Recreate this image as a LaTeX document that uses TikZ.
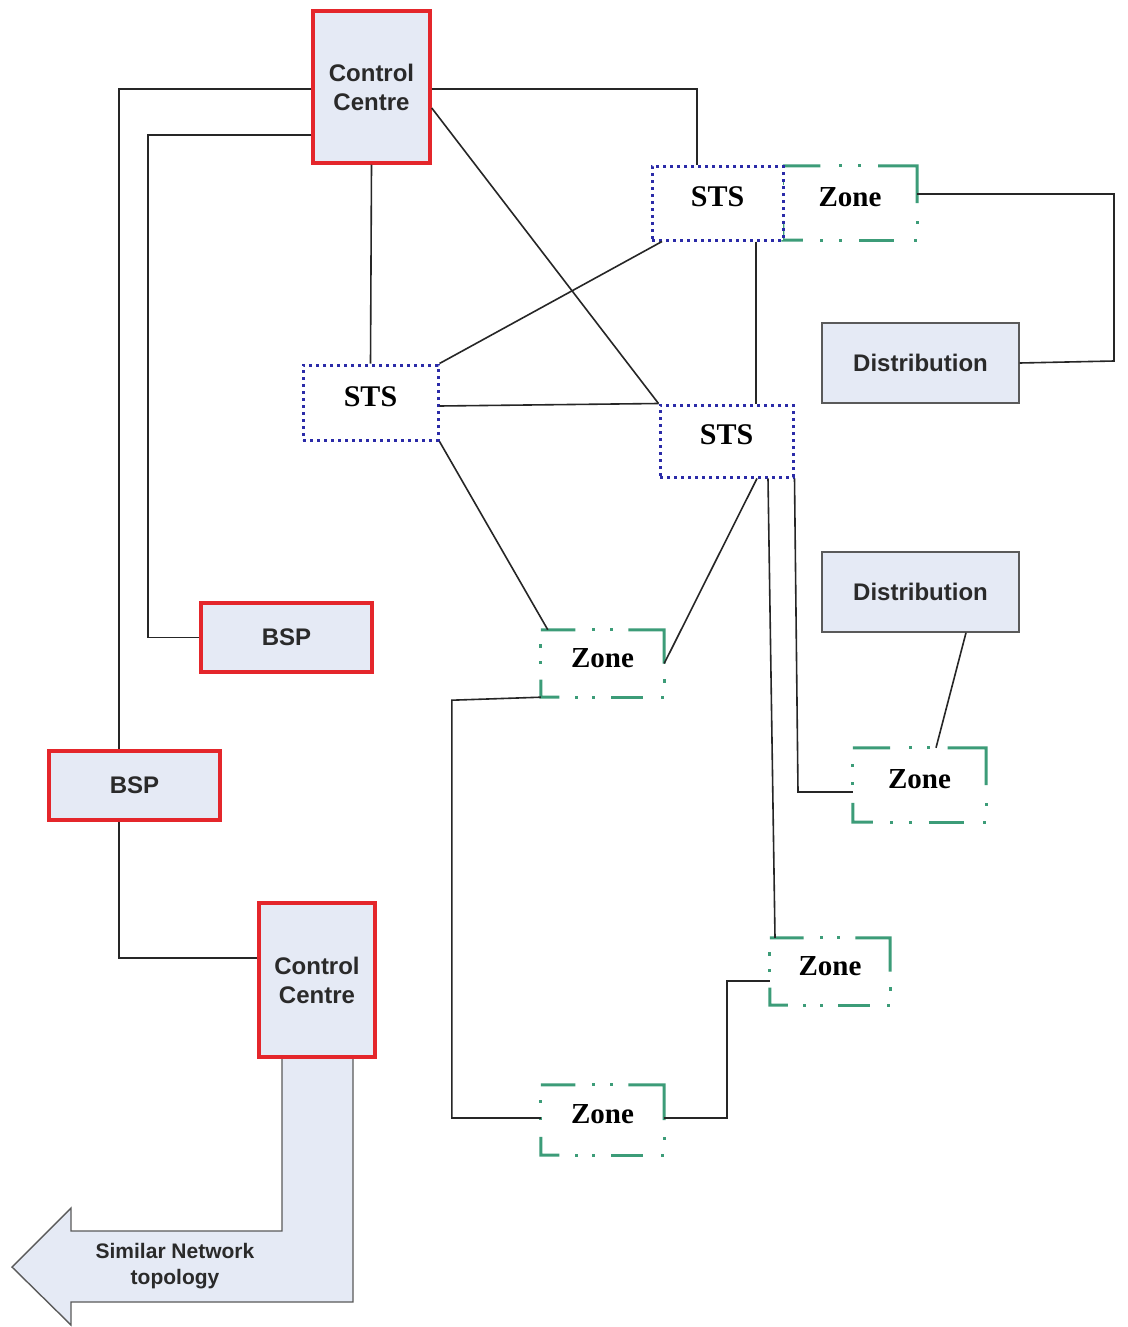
\documentclass[tikz,border=0pt]{standalone}
\usepackage{fontspec}
\usetikzlibrary{calc}
\setmainfont{Liberation Sans}
\newfontfamily\tnr{Liberation Serif}
\definecolor{cred}{HTML}{E4262B}
\definecolor{cfill}{HTML}{E5EAF5}
\definecolor{cblue}{HTML}{2B2BA8}
\definecolor{cgreen}{HTML}{3C9C78}
\definecolor{cgray}{HTML}{5A5A5A}
\definecolor{ctext}{HTML}{2A2A2A}
% green dash-dot-dot frame of a zone node
\newcommand\zdot[1]{\fill[cgreen] #1 ++(-1.6,-1.6) rectangle ++(3.2,3.2);}
\newcommand\zfrm[1]{%
  \draw[zl] (#1.north west) -- ($(#1.north west)!0.28!(#1.north east)$);
  \zdot{($(#1.north west)!0.43!(#1.north east)$)}
  \zdot{($(#1.north west)!0.57!(#1.north east)$)}
  \draw[zl] ($(#1.north west)!0.71!(#1.north east)$) -- (#1.north east) -- ($(#1.north east)!0.5!(#1.south east)$);
  \zdot{($(#1.north east)!0.76!(#1.south east)$)}
  \zdot{($(#1.south west)!0.985!(#1.south east)$)}
  \draw[zl] ($(#1.south west)!0.57!(#1.south east)$) -- ($(#1.south west)!0.83!(#1.south east)$);
  \zdot{($(#1.south west)!0.29!(#1.south east)$)}
  \zdot{($(#1.south west)!0.43!(#1.south east)$)}
  \draw[zl] ($(#1.south west)!0.15!(#1.south east)$) -- (#1.south west) -- ($(#1.north west)!0.74!(#1.south west)$);
  \zdot{($(#1.north west)!0.24!(#1.south west)$)}
  \zdot{($(#1.north west)!0.48!(#1.south west)$)}
}
\begin{document}
\begin{tikzpicture}[x=1pt,y=-1pt,
  box/.style={draw, inner sep=0pt, align=center},
  redbox/.style={box, draw=cred, line width=3.5pt, fill=cfill, text=ctext, font=\bfseries\fontsize{24}{29}\selectfont},
  distbox/.style={box, draw=cgray, line width=1.4pt, fill=cfill, text=ctext, font=\bfseries\fontsize{24}{29}\selectfont},
  stsbox/.style={box, draw=cblue, line width=3pt, dash pattern=on 3pt off 4pt, fill=white, text depth=12pt, font=\tnr\bfseries\fontsize{30}{34}\selectfont},
  zonebox/.style={inner sep=0pt, align=center, text depth=12pt, font=\tnr\bfseries\fontsize{29}{34}\selectfont},
  zl/.style={draw=cgreen, line width=3pt, line join=miter},
  wire/.style={draw=black!85, line width=1.6pt}]
\useasboundingbox[fill=white] (0,0) rectangle (1127,1327);

% block arrow
\fill[cfill] (282,1057) -- (282,1231) -- (71,1231) -- (71,1208) -- (12,1267) -- (71,1325) -- (71,1302) -- (353,1302) -- (353,1057) -- cycle;
\draw[cgray, line width=1.4pt, line join=miter] (282,1057) -- (282,1231) -- (71,1231) -- (71,1208) -- (12,1267) -- (71,1325) -- (71,1302) -- (353,1302) -- (353,1057);
\node[text=ctext, align=center, font=\bfseries\fontsize{21}{26}\selectfont] (simtxt) at (175,1266) {Similar Network\\topology};

% nodes
\node[redbox, minimum width=117pt, minimum height=152pt] (cc1) at (371.5,87) {Control\\Centre};
\node[zonebox, minimum width=134pt, minimum height=74pt] (zone1) at (850,203) {Zone};
\zfrm{zone1}
\node[stsbox, minimum width=131pt, minimum height=74pt] (sts1) at (717.5,203) {STS};
\node[distbox, minimum width=197pt, minimum height=80pt] (dist1) at (920.5,363) {Distribution};
\node[stsbox, minimum width=135pt, minimum height=75pt] (sts2) at (370.5,402.5) {STS};
\node[stsbox, minimum width=133pt, minimum height=72pt] (sts3) at (726.5,441) {STS};
\node[distbox, minimum width=197pt, minimum height=80pt] (dist2) at (920.5,592) {Distribution};
\node[redbox, minimum width=171pt, minimum height=69pt] (bsp1) at (286.5,637.5) {BSP};
\node[zonebox, minimum width=123pt, minimum height=67pt] (zoneA) at (602.5,663.5) {Zone};
\zfrm{zoneA}
\node[redbox, minimum width=171pt, minimum height=69pt] (bsp2) at (134.5,785.5) {BSP};
\node[zonebox, minimum width=133pt, minimum height=74pt] (zoneB) at (919.5,785) {Zone};
\zfrm{zoneB}
\node[redbox, minimum width=116pt, minimum height=154pt] (cc2) at (317,980) {Control\\Centre};
\node[zonebox, minimum width=120pt, minimum height=67pt] (zoneC) at (830,971.5) {Zone};
\zfrm{zoneC}
\node[zonebox, minimum width=123pt, minimum height=70pt] (zoneD) at (602.5,1120) {Zone};
\zfrm{zoneD}

% connectors
\draw[wire] (cc1.west |- 0,89) -| (bsp2.north -| 119,0);
\draw[wire] (bsp2.south -| 119,0) |- (cc2.west |- 0,958);
\draw[wire] (cc1.west |- 0,135) -| (bsp1.west -| 148,0) -- (bsp1.west);
\draw[wire] (cc1.east |- 0,89) -| (sts1.north -| 697,0);
\draw[wire] (cc1.east |- 0,108) -- (sts3.north west);
\draw[wire] (cc1.south) -- (sts2.north);
\draw[wire] (sts1.south -| 662,0) -- (sts2.north east);
\draw[wire] (sts1.south -| 756,0) -- (sts3.north -| 756,0);
\draw[wire] (sts2.east |- 0,406) -- (sts3.north west);
\draw[wire] (sts2.south east) -- ([xshift=7pt]zoneA.north west);
\draw[wire] (sts3.south -| 757,0) -- (zoneA.east);
\draw[wire] (sts3.south -| 768,0) -- (zoneC.north -| 775,0);
\draw[wire] (sts3.south east) -- (798,792) -- (zoneB.west |- 0,792);
\draw[wire] (zone1.east |- 0,194) -- (1114,194) -- (1114,361) -- (dist1.east |- 0,363);
\draw[wire] (dist2.south -| 966,0) -- (zoneB.north -| 936,0);
\draw[wire] (zoneA.south west) -- ++(-89,3) |- (zoneD.west |- 0,1118);
\draw[wire] (zoneD.east |- 0,1118) -| (727,981) -- (zoneC.west |- 0,981);
\end{tikzpicture}
\end{document}
